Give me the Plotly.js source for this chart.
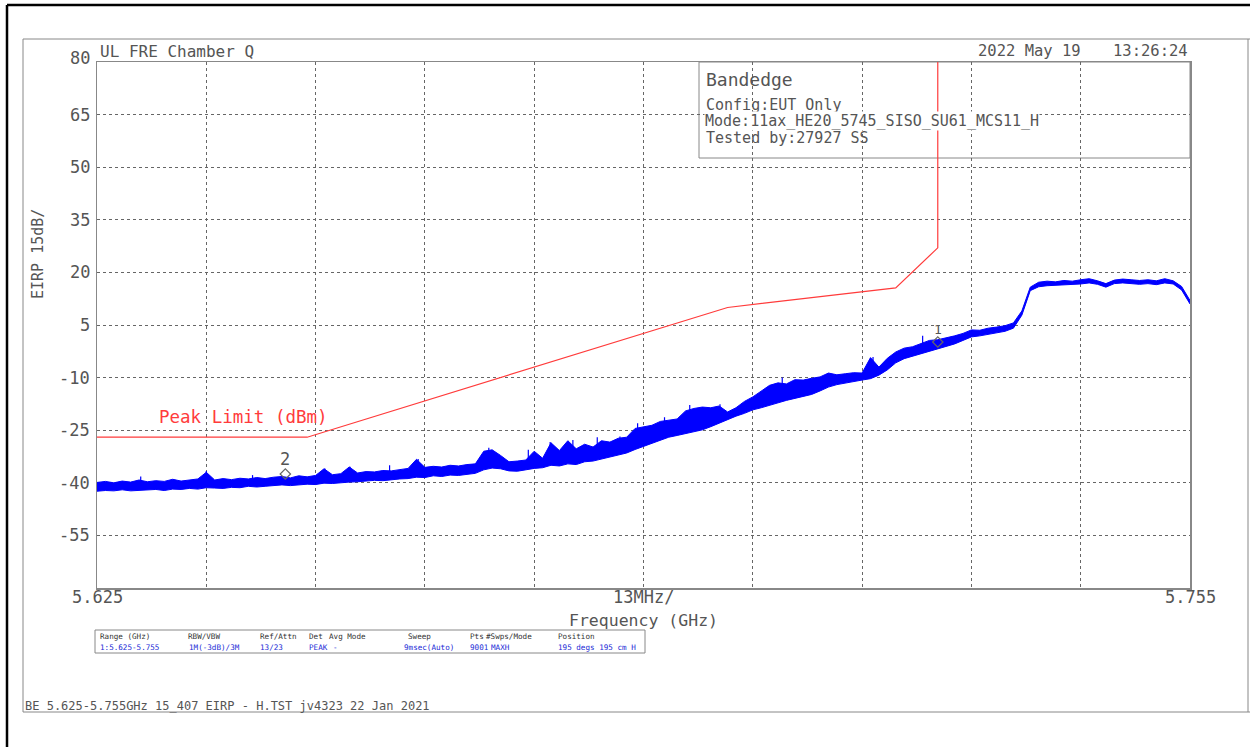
<!DOCTYPE html>
<html><head><meta charset="utf-8">
<script src="https://cdn.plot.ly/plotly-3.0.1.min.js"></script>
<style>html,body{margin:0;padding:0;background:#fff}#chart{width:1250px;height:747px}</style>
</head><body><div id="chart"></div>
<script>
// ---- data (level in dBm, one reading per MHz from 5.625 GHz) ----
const sweepStartGHz = 5.625;
const sweepStepGHz = 0.001;
const bandUpper = [
  -39.9, -39.6, -40.0, -39.5, -39.8, -39.2, -39.7, -39.4, -39.6, -39.0,
  -39.5, -39.3, -38.9, -37.0, -39.2, -38.8, -39.1, -38.7, -38.9, -38.5,
  -38.8, -38.4, -38.2, -38.6, -38.0, -38.3, -37.9, -36.0, -37.7, -37.4,
  -35.5, -37.2, -36.8, -36.9, -36.5, -36.6, -36.2, -35.9, -33.3, -35.6,
  -35.3, -35.5, -35.0, -35.2, -34.8, -34.6, -31.0, -30.6, -32.2, -34.0,
  -33.8, -33.5, -31.0, -33.0, -28.6, -30.8, -28.0, -30.3, -29.0, -29.8,
  -28.0, -28.4, -27.3, -27.0, -24.5, -24.0, -23.6, -22.5, -22.1, -21.8,
  -19.5, -18.8, -18.4, -18.6, -18.1, -19.8, -18.6, -16.8, -15.5, -13.8,
  -12.2, -11.5, -11.8, -10.6, -10.7, -10.2, -9.8, -8.7, -9.2, -8.9,
  -8.6, -8.7, -4.3, -7.0, -4.5, -2.7, -1.6, -1.2, -0.2, 0.6,
  0.8, 1.3, 1.9, 2.6, 3.6, 3.5, 4.1, 4.4, 4.8, 5.6,
  9.0, 15.8, 17.2, 17.5, 17.3, 17.7, 17.5, 17.9, 18.2, 17.6,
  16.8, 17.8, 18.1, 17.9, 17.7, 17.9, 17.6, 18.2, 17.6, 16.0,
  12.0];
const bandLower = [
  -42.4, -42.2, -42.3, -42.0, -42.3, -42.1, -42.0, -41.9, -42.2, -41.8,
  -41.9, -41.6, -41.8, -41.4, -41.5, -41.6, -41.3, -41.4, -41.0, -41.2,
  -41.0, -40.9, -40.6, -40.8, -40.5, -40.4, -40.5, -40.1, -40.2, -39.9,
  -39.8, -39.7, -39.4, -39.3, -39.4, -39.1, -38.9, -38.8, -38.4, -38.5,
  -38.0, -38.2, -37.8, -37.9, -37.5, -37.3, -36.3, -35.8, -36.0, -36.6,
  -36.7, -36.2, -35.9, -35.7, -35.0, -35.2, -34.6, -34.8, -34.0, -33.8,
  -33.2, -32.8, -32.2, -31.5, -30.5, -29.6, -28.8, -27.9, -27.0, -26.5,
  -26.0, -25.5, -24.9, -24.0, -23.0, -21.8, -21.0, -20.2, -19.2, -18.6,
  -17.8, -17.2, -16.5, -16.0, -15.5, -14.8, -13.8, -12.7, -12.0, -11.5,
  -11.0, -10.7, -10.3, -9.3, -7.8, -5.8, -4.6, -3.9, -3.0, -2.3,
  -1.7, -1.0, -0.4, 0.6, 1.6, 1.9, 2.3, 2.7, 3.2, 4.1,
  7.8, 14.8, 15.9, 16.2, 16.3, 16.5, 16.4, 16.7, 17.0, 16.6,
  15.8, 16.8, 17.0, 16.8, 16.6, 16.8, 16.5, 17.0, 16.7, 15.0,
  11.0];
const spikeFreq = [5.6302, 5.6380, 5.6435, 5.6521, 5.6551, 5.6598, 5.6632, 5.6716, 5.6763, 5.6789, 5.6816, 5.6845, 5.6872, 5.6893, 5.6925, 5.6955, 5.6991, 5.7065, 5.7173, 5.7232];
const spikeBase = [-41.5, -40.8, -40.6, -39.3, -38.8, -38.0, -36.8, -34.5, -34.2, -33.4, -32.2, -31.4, -30.3, -27.5, -25.0, -23.5, -21.5, -14.5, -9.5, -2.0];
const spikeTop  = [-38.2, -36.6, -37.8, -35.9, -35.4, -35.0, -33.2, -30.0, -30.6, -28.4, -27.8, -27.0, -26.8, -23.0, -21.3, -17.8, -17.6, -10.0, -4.1, 1.9];
const limitFreq = [5.625, 5.650, 5.700, 5.720, 5.725, 5.725];
const limitVal  = [-27, -27, 10, 15.6, 27, 80];
const markerFreq = [5.6474, 5.7250];
const markerVal  = [-37.5, 0.15];
const markerLabel = ['2', '1'];
const xGrid = [5.638, 5.651, 5.664, 5.677, 5.690, 5.703, 5.716, 5.729, 5.742];
const yTicks = [80, 65, 50, 35, 20, 5, -10, -25, -40, -55];
const xLabels = [['5.625', 5.625], ['13MHz/', 5.690], ['5.755', 5.755]];
const tableHead = ['Range (GHz)', 'RBW/VBW', 'Ref/Attn', 'Det', 'Avg Mode', 'Sweep', 'Pts', '#Swps/Mode', 'Position'];
const tableVals = ['1:5.625-5.755', '1M(-3dB)/3M', '13/23', 'PEAK', '-', '9msec(Auto)', '9001', 'MAXH', '195 degs 195 cm H'];
const infoLines = ['Config:EUT Only', 'Mode:11ax_HE20_5745_SISO_SU61_MCS11_H', 'Tested by:27927 SS'];

// ---- layout helpers (pixel -> paper) ----
const L = 97, R = 1190, T = 62, B = 588;
const px = X => (X - L) / (R - L);
const py = Y => (B - Y) / (B - T);
const FONT = 'DejaVu Sans Mono, monospace';
const GRAY = '#555';
const BLUE = '#0000ff';

const bandFreq = bandUpper.map((_, i) => +(sweepStartGHz + i * sweepStepGHz).toFixed(4));
const traces = [];
traces.push({x: bandFreq, y: bandLower, mode: 'lines', line: {color: BLUE, width: 1}, hoverinfo: 'skip'});
traces.push({x: bandFreq, y: bandUpper, mode: 'lines', fill: 'tonexty', fillcolor: BLUE, line: {color: BLUE, width: 1}, hoverinfo: 'skip'});
const sx = [], sy = [];
spikeFreq.forEach((f, i) => { sx.push(f, f, null); sy.push(spikeBase[i], spikeTop[i], null); });
traces.push({x: sx, y: sy, mode: 'lines', line: {color: BLUE, width: 1.2}, hoverinfo: 'skip'});
traces.push({x: limitFreq, y: limitVal, mode: 'lines', line: {color: '#ff3b3b', width: 1.2}, hoverinfo: 'skip'});
traces.push({x: markerFreq, y: markerVal, mode: 'markers', marker: {symbol: 'diamond-open', size: 8, color: '#666', line: {width: 1.2}}, hoverinfo: 'skip'});

const ann = [];
function txt(text, X, Y, size, opt) {
  ann.push(Object.assign({text: text, xref: 'paper', yref: 'paper', x: px(X), y: py(Y), showarrow: false,
    xanchor: 'left', yanchor: 'middle', font: {family: FONT, size: size, color: GRAY}}, opt || {}));
}
yTicks.forEach(v => {
  ann.push({text: String(v), xref: 'paper', yref: 'y', x: px(92), y: v, showarrow: false, xanchor: 'right', yanchor: 'middle',
    yshift: v === 80 ? 4 : 0, font: {family: FONT, size: 17, color: GRAY}});
});
xLabels.forEach(([t, f]) => {
  ann.push({text: t, xref: 'x', yref: 'paper', x: f, y: py(597), showarrow: false, xanchor: 'center', yanchor: 'middle',
    font: {family: FONT, size: 17, color: GRAY}});
});
txt('Frequency (GHz)', 643, 620, 16.5, {xanchor: 'center'});
txt('EIRP 15dB/', 38, 254, 15, {xanchor: 'center', textangle: -90});
txt('UL FRE Chamber Q', 98, 51, 16);
txt('2022 May 19', 1083, 51, 15.5, {xanchor: 'right'});
txt('13:26:24', 1190, 51, 15.5, {xanchor: 'right'});
txt('Bandedge', 704, 79, 18);
infoLines.forEach((t, i) => txt(t, 704, [105, 121, 138][i], 15, i === 1 ? {bgcolor: '#fff', borderpad: 0} : {}));
txt('Peak Limit (dBm)', 157, 417, 17.5, {font: {family: FONT, size: 17.5, color: '#ff3b3b'}});
markerLabel.forEach((t, i) => {
  ann.push({text: t, xref: 'x', yref: 'y', x: markerFreq[i], y: markerVal[i], showarrow: false, xanchor: 'center', yanchor: 'middle',
    yshift: i === 0 ? 15 : 13, font: {family: FONT, size: i === 0 ? 17 : 13, color: GRAY}});
});
const headX = [98, 186, 258, 307, 327, 406, 468, 484, 556];
const valX  = [98, 187, 258, 307, 331, 402, 468, 489, 556];
tableHead.forEach((t, i) => txt(t, headX[i], 636, 7.6, {font: {family: FONT, size: 7.6, color: '#333'}}));
tableVals.forEach((t, i) => txt(t, valX[i], 647, 7.6, {font: {family: FONT, size: 7.6, color: '#1a2bd6'}}));
txt('BE 5.625-5.755GHz 15_407 EIRP - H.TST jv4323 22 Jan 2021', 23, 706, 12);

const shapes = [];
function line(X0, Y0, X1, Y1, color, w) {
  shapes.push({type: 'line', xref: 'paper', yref: 'paper', x0: px(X0), y0: py(Y0), x1: px(X1), y1: py(Y1), line: {color: color, width: w}, layer: 'above'});
}
line(7, 5, 7, 747, '#000', 2.5);
line(7, 5, 1250, 5, '#000', 2.5);
line(23, 39, 23, 712, '#888', 1);
line(23, 39, 1250, 39, '#888', 1);
line(23, 712, 1250, 712, '#888', 1);
line(1248, 39, 1248, 712, '#888', 1);
shapes.push({type: 'rect', xref: 'paper', yref: 'paper', x0: px(699), y0: py(62), x1: px(1190), y1: py(158),
  line: {color: '#888', width: 1}, fillcolor: '#fff', layer: 'between'});
shapes.push({type: 'rect', xref: 'paper', yref: 'paper', x0: px(95), y0: py(630), x1: px(645), y1: py(653),
  line: {color: '#888', width: 1}, fillcolor: 'rgba(0,0,0,0)', layer: 'above'});

const layout = {
  width: 1250, height: 747, paper_bgcolor: '#fff', plot_bgcolor: '#fff', showlegend: false,
  margin: {l: L, r: 1250 - R, t: T, b: 747 - B, pad: 0},
  xaxis: {range: [5.625, 5.755], tickvals: xGrid, showticklabels: false, ticks: '', showgrid: true,
    gridcolor: '#666', griddash: 'dot', gridwidth: 1, zeroline: false, showline: true, mirror: true,
    linecolor: '#888', linewidth: 1.5, fixedrange: true},
  yaxis: {range: [-70, 80], tickvals: yTicks.slice(1), showticklabels: false, ticks: '', showgrid: true,
    gridcolor: '#666', griddash: 'dot', gridwidth: 1, zeroline: false, showline: true, mirror: true,
    linecolor: '#888', linewidth: 1.5, fixedrange: true},
  annotations: ann, shapes: shapes
};
Plotly.newPlot('chart', traces, layout, {displayModeBar: false, staticPlot: true});
</script>
</body></html>
